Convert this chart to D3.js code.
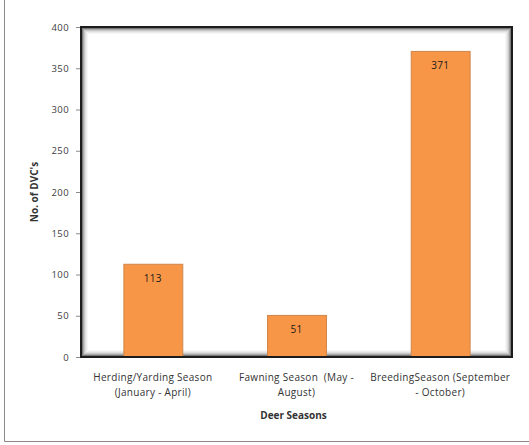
<!DOCTYPE html>
<html>
<head>
<meta charset="utf-8">
<script src="https://cdn.jsdelivr.net/npm/d3@7"></script>
<style>
  html, body { margin: 0; padding: 0; background: #fff; }
  svg { display: block; }
  text { font-family: "Open Sans", "Liberation Sans", sans-serif; }
</style>
</head>
<body>
<svg id="chart" width="529" height="445"></svg>
<script>
// Deer-vehicle collisions by season
const categories = [
  ["Herding/Yarding Season", "(January - April)"],
  ["Fawning Season  (May -", "August)"],
  ["BreedingSeason (September", "- October)"]
];
const values = [113, 51, 371];
const yTicks = [0, 50, 100, 150, 200, 250, 300, 350, 400];
const yTitle = "No. of DVC's";
const xTitle = "Deer Seasons";

const svg = d3.select("#chart");
const W = 529, H = 445;
const plot = { left: 81, top: 27, right: 512, bottom: 357 };

// Outer chart-area border (left and bottom visible)
svg.append("line").attr("x1", 4.5).attr("x2", 4.5).attr("y1", 0).attr("y2", 441.5)
  .attr("stroke", "#8a8a8a").attr("stroke-width", 1);
svg.append("line").attr("x1", 4.5).attr("x2", W).attr("y1", 441.5).attr("y2", 441.5)
  .attr("stroke", "#8a8a8a").attr("stroke-width", 1);

const x = d3.scaleBand()
  .domain(d3.range(categories.length))
  .range([plot.left, plot.right])
  .paddingInner(0.59)
  .paddingOuter(0.295);

const y = d3.scaleLinear().domain([0, 400]).range([plot.bottom, plot.top]);

// Plot area with inner shading
const pw = plot.right - plot.left, ph = plot.bottom - plot.top;
svg.append("rect").attr("x", plot.left).attr("y", plot.top)
  .attr("width", pw).attr("height", ph).attr("fill", "#fff");
const glow = ["#7a7a7a", "#a8a8a8", "#c8c8c8", "#dedede", "#ececec", "#f6f6f6"];
glow.forEach((c, i) => {
  const o = 1.5 + i;
  svg.append("rect")
    .attr("x", plot.left + o).attr("y", plot.top + o)
    .attr("width", pw - 2 * o).attr("height", ph - 2 * o)
    .attr("fill", "none").attr("stroke", c).attr("stroke-width", 1);
});

// Y axis
const yAxis = d3.axisLeft(y).tickValues(yTicks).tickSize(5).tickPadding(7);
const gy = svg.append("g").attr("transform", `translate(${plot.left},0)`).call(yAxis);
gy.select(".domain").remove();
gy.selectAll(".tick line").attr("stroke", "#8c8c8c");
gy.selectAll(".tick text")
  .attr("font-family", "Open Sans, Liberation Sans, sans-serif")
  .attr("font-size", 9.5).attr("fill", "#404040").attr("letter-spacing", 0.4);

// Bars
svg.selectAll("rect.bar").data(values).join("rect")
  .attr("class", "bar")
  .attr("x", (d, i) => x(i) + 0.5)
  .attr("y", d => y(d) + 0.5)
  .attr("width", x.bandwidth())
  .attr("height", d => y(0) - y(d))
  .attr("fill", "#f79646")
  .attr("stroke", "#d08549").attr("stroke-width", 1);

// Value labels
svg.selectAll("text.val").data(values).join("text")
  .attr("class", "val")
  .attr("x", (d, i) => x(i) + x.bandwidth() / 2)
  .attr("y", d => y(d) + 18)
  .attr("text-anchor", "middle")
  .attr("font-size", 10).attr("fill", "#1a1a1a").attr("letter-spacing", 0.3)
  .text(d => d);

// Plot frame drawn over bars
svg.append("rect").attr("x", plot.left).attr("y", plot.top)
  .attr("width", pw).attr("height", ph)
  .attr("fill", "none").attr("stroke", "#1c1c1c").attr("stroke-width", 2);

// Category labels
const cl = svg.selectAll("g.cat").data(categories).join("g").attr("class", "cat")
  .attr("transform", (d, i) => `translate(${x(i) + x.bandwidth() / 2},0)`);
cl.each(function(lines) {
  const g = d3.select(this);
  lines.forEach((t, k) => {
    g.append("text").attr("x", 0).attr("y", 381 + k * 15)
      .attr("text-anchor", "middle").attr("font-size", 10)
      .attr("fill", "#333").attr("letter-spacing", 0.3)
      .style("white-space", "pre")
      .text(t);
  });
});

// Axis titles
svg.append("text").attr("x", (plot.left + plot.right) / 2 - 3).attr("y", 419)
  .attr("text-anchor", "middle").attr("font-size", 10).attr("font-weight", "bold")
  .attr("fill", "#333").text(xTitle);
svg.append("text")
  .attr("transform", `translate(38,${(plot.top + plot.bottom) / 2}) rotate(-90)`)
  .attr("text-anchor", "middle").attr("font-size", 10).attr("font-weight", "bold")
  .attr("fill", "#333").text(yTitle);
</script>
</body>
</html>
